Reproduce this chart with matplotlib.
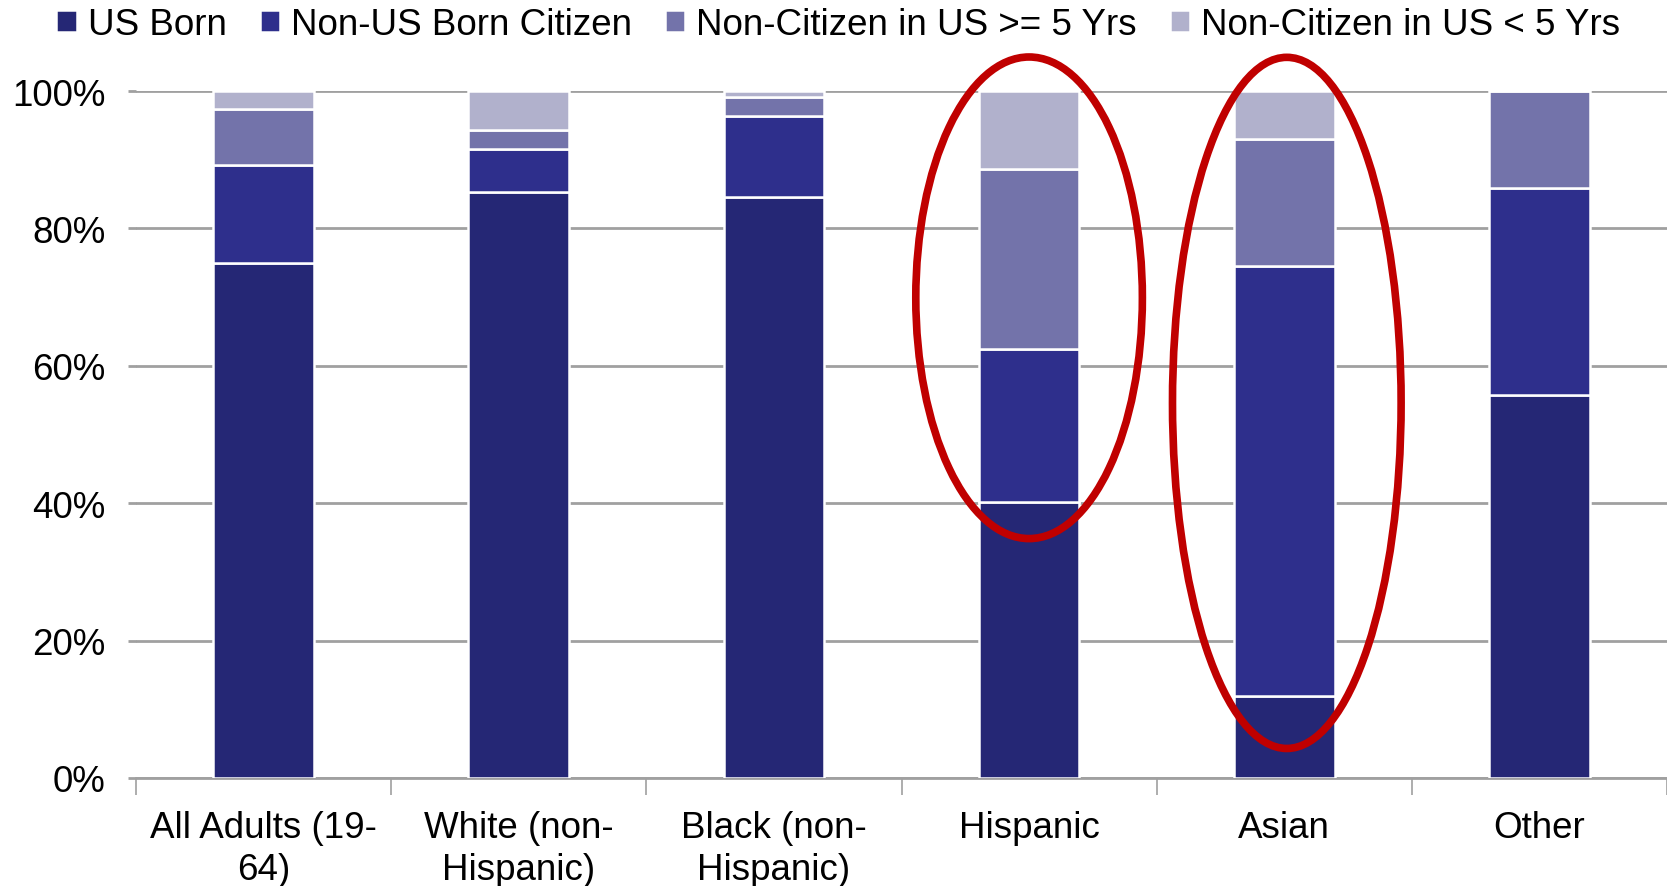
import matplotlib.pyplot as plt
import numpy as np
from matplotlib.patches import Ellipse

plt.rcParams['font.family'] = ['Liberation Sans', 'DejaVu Sans']

categories = ["All Adults (19-\n64)", "White (non-\nHispanic)", "Black (non-\nHispanic)",
              "Hispanic", "Asian", "Other"]
series = ["US Born", "Non-US Born Citizen", "Non-Citizen in US >= 5 Yrs", "Non-Citizen in US < 5 Yrs"]
us_born = [74.9, 85.3, 84.5, 40.2, 11.9, 55.7]
non_us_citizen = [14.4, 6.3, 11.8, 22.3, 62.6, 30.2]
noncit_5plus = [8.1, 2.7, 2.8, 26.2, 18.5, 14.1]
noncit_lt5 = [2.6, 5.7, 0.9, 11.3, 7.0, 0.0]
colors = ['#252775', '#2e2f8c', '#7373aa', '#b1b1cc']

fig = plt.figure(figsize=(16.67, 8.87), dpi=100)
ax = fig.add_axes([136 / 1667, 108 / 887, 1531 / 1667, 687 / 887])

x = np.arange(len(categories))
bottom = np.zeros(len(categories))
for name, vals, c in zip(series, [us_born, non_us_citizen, noncit_5plus, noncit_lt5], colors):
    ax.bar(x, vals, 0.395, bottom=bottom, color=c, edgecolor='white', linewidth=1.8,
           label=name, zorder=3)
    bottom += np.array(vals)

ax.set_ylim(0, 100)
ax.set_xlim(-0.5, -0.5 + 1531 / 256.6)
ax.set_yticks(np.arange(0, 101, 20))
ax.set_yticklabels([f"{v}%" for v in range(0, 101, 20)])
ax.yaxis.grid(True, color='#a0a0a0', linewidth=2, zorder=0)
ax.set_xticks(x)
ax.set_xticklabels(categories, linespacing=1.25)
ax.set_xticks(np.arange(-0.5, 6, 1), minor=True)
ax.tick_params(axis='x', which='major', length=0, pad=23, labelsize=26.5)
ax.tick_params(axis='x', which='minor', length=12, width=1.2, color='#a0a0a0')
ax.tick_params(axis='y', length=6, width=2, color='#a0a0a0', pad=16, labelsize=26.5)
for s in ['top', 'right', 'left']:
    ax.spines[s].set_visible(False)
ax.spines['bottom'].set_color('#a0a0a0')
ax.spines['bottom'].set_linewidth(2)

# red ellipses around Hispanic and Asian
for cx, cy, w, h in [(3.0, 69.9, 0.888, 70.1), (4.01, 54.6, 0.896, 100.6)]:
    e = Ellipse((cx, cy), w, h, fill=False, edgecolor='#c00000', linewidth=5.5,
                zorder=5, clip_on=False)
    ax.add_patch(e)

fig.legend(loc='upper center', bbox_to_anchor=(0.503, 1.028), ncol=4, frameon=False,
           fontsize=26.5, handlelength=0.55, handleheight=0.55, handletextpad=0.3,
           columnspacing=0.9)

fig.savefig('out.png', dpi=100)
